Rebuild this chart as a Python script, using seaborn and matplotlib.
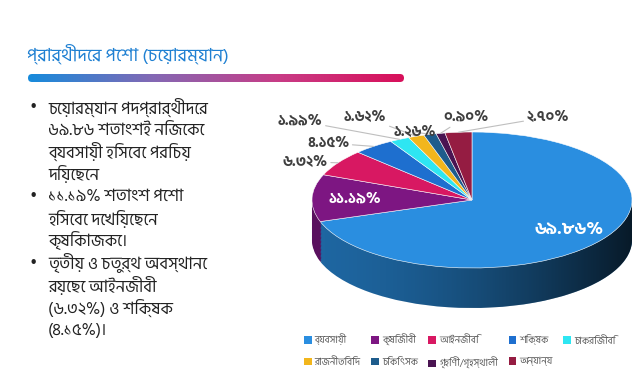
import numpy as np
import matplotlib
matplotlib.use("Agg")
import matplotlib.pyplot as plt
import seaborn as sns
from matplotlib.colors import LinearSegmentedColormap, to_rgb
from matplotlib.patches import FancyBboxPatch, Patch, Polygon

# Data
occupations = ['ব্যবসায়ী', 'কৃষিজীবী', 'আইনজীবি', 'শিক্ষক', 'চাকরিজীবি',
               'রাজনীতিবিদ', 'চিকিৎসক', 'গৃহিণী/গৃহস্থালী', 'অন্যান্য']
shares = [69.86, 11.19, 6.32, 4.15, 1.99, 1.62, 1.26, 0.90, 2.70]
share_labels = ['৬৯.৮৬%', '১১.১৯%', '৬.৩২%', '৪.১৫%', '১.৯৯%',
                '১.৬২%', '১.২৬%', '০.৯০%', '২.৭০%']
palette = ['#2a8ee0', '#7d1682', '#d81862', '#1e6fcf', '#2ee6f2',
           '#f2b61c', '#1e5c8c', '#4a1452', '#951c42']

title = 'প্রার্থীদের পেশা (চেয়ারম্যান)'
bullets = [
    ['চেয়ারম্যান পদপ্রার্থীদের', '৬৯.৮৬ শতাংশই নিজেকে', 'ব্যবসায়ী হিসেবে পরিচয়', 'দিয়েছেন'],
    ['১১.১৯% শতাংশ পেশা', 'হিসেবে দেখিয়েছেন', 'কৃষিকাজকে।'],
    ['তৃতীয় ও চতুর্থ অবস্থানে', 'রয়েছে আইনজীবী', '(৬.৩২%) ও শিক্ষক', '(৪.১৫%)।'],
]

sns.set_theme(style='white')
plt.rcParams['font.family'] = ['Hind Siliguri', 'Noto Sans Bengali', 'DejaVu Sans']

W, H = 640, 373
fig = plt.figure(figsize=(W / 100, H / 100), dpi=100)
fig.patch.set_facecolor('white')

def fx(px):
    return px / W

def fy(py):
    return 1 - py / H

# Title + gradient rule
fig.text(fx(27), fy(54), title, color='#1f80d2', fontsize=13, va='center', ha='left')
bar_ax = fig.add_axes([fx(28), fy(82), fx(376), 8 / H])
bar_ax.set_xlim(0, 376)
bar_ax.set_ylim(0, 8)
bar_ax.axis('off')
grad = LinearSegmentedColormap.from_list('g', ['#168bdc', '#8468b4', '#c83c86', '#d8105a'])
im = bar_ax.imshow(np.linspace(0, 1, 256)[None, :], aspect='auto', cmap=grad,
                   extent=[0, 376, 0, 8])
clip = FancyBboxPatch((0, 0), 376, 8, boxstyle='round,pad=0,rounding_size=4',
                      transform=bar_ax.transData, facecolor='none', edgecolor='none')
bar_ax.add_patch(clip)
im.set_clip_path(clip)

# Bullet text
y = 107
for block in bullets:
    fig.text(fx(33), fy(y), '•', fontsize=12, va='center', ha='center', color='#222222')
    for line in block:
        fig.text(fx(48), fy(y), line, fontsize=12, va='center', ha='left', color='#222222')
        y += 22.3

# Pie (3D-ish tilted disk)
cx, cy, rx, ry = 472, 200, 160, 68
ax = fig.add_axes([fx(290), fy(330), fx(350), 210 / H])

thick = 40 / ry
steps = 30
side = [tuple(np.array(to_rgb(c)) * 0.72) for c in palette]
for i in range(steps, 0, -1):
    off = -thick * i / steps
    ax.pie(shares, colors=side, startangle=90, counterclock=False,
           center=(0, off), radius=1, frame=True,
           wedgeprops=dict(linewidth=0, zorder=1))

# darkening toward the right on the cylinder side
theta = np.linspace(np.pi, 2 * np.pi, 200)
rim = np.c_[np.cos(theta), np.sin(theta)]
low = np.c_[np.cos(theta[::-1]), np.sin(theta[::-1]) - thick]
side_poly = Polygon(np.vstack([rim, low]), closed=True, facecolor='none',
                    edgecolor='none', transform=ax.transData)
ax.add_patch(side_poly)
ramp = np.zeros((1, 256, 4))
ramp[0, :, 3] = np.linspace(0, 1, 256) ** 1.6 * 0.75
shade = ax.imshow(ramp, extent=[-1, 1, -1 - thick, 0], aspect='auto', zorder=1.5)
shade.set_clip_path(side_poly)

wedges, _ = ax.pie(shares, colors=palette, startangle=90, counterclock=False,
                   center=(0, 0), radius=1, frame=True,
                   wedgeprops=dict(linewidth=0.4, edgecolor='white', zorder=2))
ax.set_aspect('auto')
ax.set_xlim((290 - cx) / rx, (640 - cx) / rx)
ax.set_ylim((cy - 330) / ry, (cy - 120) / ry)
ax.axis('off')

# Labels: inner for the two large slices, outer with leader lines for the rest
label_pos = [None, None, (305, 162), (328, 143), (300, 121), (365, 117),
             (415, 132), (466, 117), (548, 117)]
for i, w in enumerate(wedges):
    mid = np.deg2rad((w.theta1 + w.theta2) / 2)
    if label_pos[i] is None:
        r = 0.75 if i == 0 else 0.73
        ax.text(r * np.cos(mid), r * np.sin(mid), share_labels[i], color='white',
                fontsize=12.5 if i == 0 else 11, fontweight='bold',
                ha='center', va='center', zorder=5)
    else:
        px, py = label_pos[i]
        ax.annotate(share_labels[i], xy=(np.cos(mid), np.sin(mid)),
                    xytext=((px - cx) / rx, (cy - py) / ry), textcoords='data',
                    ha='center', va='center', fontsize=10.5, fontweight='bold',
                    color='#404040', annotation_clip=False, zorder=5,
                    arrowprops=dict(arrowstyle='-', color='#bfbfbf', lw=0.8,
                                    shrinkA=0, shrinkB=0))

# Legend (row-major order)
order = [0, 5, 1, 6, 2, 7, 3, 8, 4]
handles = [Patch(facecolor=palette[k], edgecolor='none', label=occupations[k]) for k in order]
leg = fig.legend(handles=handles, loc='upper left', bbox_to_anchor=(fx(295), fy(325)),
                 ncol=5, frameon=False, fontsize=7, handlelength=0.8, handleheight=0.8,
                 handletextpad=0.3, columnspacing=1.1, labelspacing=1.2)
for t in leg.get_texts():
    t.set_color('#595959')

fig.savefig('out.png', dpi=100, facecolor='white')
